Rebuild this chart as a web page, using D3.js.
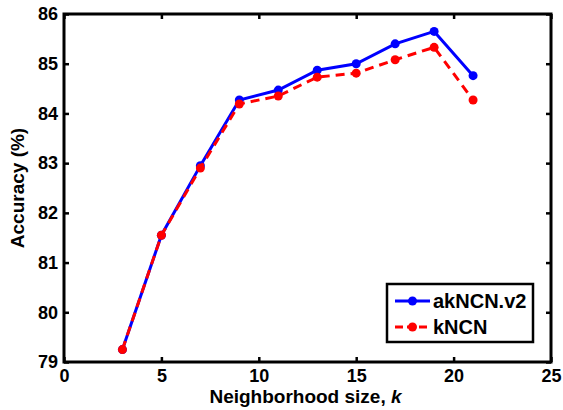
<!DOCTYPE html>
<html>
<head>
<meta charset="utf-8">
<script src="https://cdn.jsdelivr.net/npm/d3@7"></script>
<style>
  body { margin: 0; background: #fff; }
  svg text { font-family: "Liberation Sans", Arial, sans-serif; font-weight: bold; fill: #000; }
</style>
</head>
<body>
<svg class="chart" width="563" height="410"></svg>
<script>
// neighborhood sizes and accuracies
var kValues = [3, 5, 7, 9, 11, 13, 15, 17, 19, 21];
var akncnV2 = [79.25, 81.55, 82.95, 84.27, 84.47, 84.87, 85.0, 85.4, 85.65, 84.76];
var kncn    = [79.25, 81.55, 82.9, 84.19, 84.35, 84.73, 84.81, 85.08, 85.33, 84.27];
var xTicks = [0, 5, 10, 15, 20, 25];
var yTicks = [79, 80, 81, 82, 83, 84, 85, 86];

var svg = d3.select("svg.chart"),
    pl = 64, pr = 551, pt = 14, pb = 362;

var x = d3.scaleLinear().domain([0, 25]).range([pl, pr]);
var y = d3.scaleLinear().domain([79, 86]).range([pb, pt]);

var series = [
  { name: "akNCN.v2", values: akncnV2, color: "#0000ff", dash: null },
  { name: "kNCN", values: kncn, color: "#ff0000", dash: "9,6" }
];

// axes: ticks pointing inward on all four sides
svg.append("g").attr("transform", "translate(0," + pb + ")")
    .call(d3.axisBottom(x).tickValues(xTicks).tickSize(-5).tickPadding(7).tickFormat(d3.format("d")));
svg.append("g").attr("transform", "translate(0," + pt + ")")
    .call(d3.axisTop(x).tickValues(xTicks).tickSize(-5).tickFormat(""));
svg.append("g").attr("transform", "translate(" + pl + ",0)")
    .call(d3.axisLeft(y).tickValues(yTicks).tickSize(-5).tickPadding(6).tickFormat(d3.format("d")));
svg.append("g").attr("transform", "translate(" + pr + ",0)")
    .call(d3.axisRight(y).tickValues(yTicks).tickSize(-5).tickFormat(""));

svg.selectAll(".domain").remove();
svg.selectAll(".tick line").attr("stroke", "#000").attr("stroke-width", 2.5);
svg.selectAll(".tick text").style("font-size", "18px");

// frame
svg.append("rect")
    .attr("x", pl).attr("y", pt)
    .attr("width", pr - pl).attr("height", pb - pt)
    .attr("fill", "none").attr("stroke", "#000").attr("stroke-width", 3);

var line = d3.line()
    .x(function(d, i) { return x(kValues[i]); })
    .y(function(d) { return y(d); });

var sg = svg.append("g").selectAll("g")
    .data(series)
  .enter().append("g");

sg.append("path")
    .attr("d", function(d) { return line(d.values); })
    .attr("fill", "none")
    .attr("stroke", function(d) { return d.color; })
    .attr("stroke-width", 3)
    .attr("stroke-dasharray", function(d) { return d.dash; });

sg.selectAll("circle")
    .data(function(d) { return d.values.map(function(v, i) { return { v: v, k: kValues[i], c: d.color }; }); })
  .enter().append("circle")
    .attr("cx", function(d) { return x(d.k); })
    .attr("cy", function(d) { return y(d.v); })
    .attr("r", 4.5)
    .attr("fill", function(d) { return d.c; });

// axis titles
svg.append("text")
    .attr("x", (pl + pr) / 2 - 2).attr("y", 403)
    .attr("text-anchor", "middle")
    .style("font-size", "19px")
    .html('Neighborhood size, <tspan font-style="italic">k</tspan>');

svg.append("text")
    .attr("transform", "translate(24," + (pt + pb) / 2 + ") rotate(-90)")
    .attr("text-anchor", "middle")
    .style("font-size", "19px")
    .text("Accuracy (%)");

// legend
var legend = svg.append("g").attr("transform", "translate(387,284)");
legend.append("rect")
    .attr("width", 146).attr("height", 58)
    .attr("fill", "#fff").attr("stroke", "#000").attr("stroke-width", 2.5);

var item = legend.selectAll("g.item")
    .data(series)
  .enter().append("g")
    .attr("class", "item")
    .attr("transform", function(d, i) { return "translate(0," + (17 + i * 26) + ")"; });

item.append("line")
    .attr("x1", 8).attr("x2", 43)
    .attr("stroke", function(d) { return d.color; })
    .attr("stroke-width", 3)
    .attr("stroke-dasharray", function(d) { return d.dash ? "8,4" : null; });
item.append("circle")
    .attr("cx", 25.5).attr("r", 4.5)
    .attr("fill", function(d) { return d.color; });
item.append("text")
    .attr("x", 46).attr("dy", "0.35em")
    .style("font-size", "20px")
    .text(function(d) { return d.name; });
</script>
</body>
</html>
